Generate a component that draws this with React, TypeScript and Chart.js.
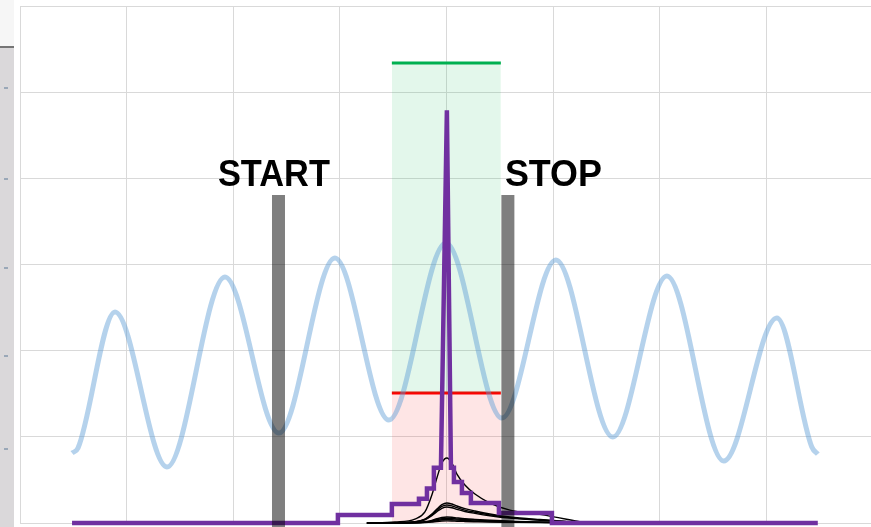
import React, { useEffect, useRef } from "react";
import { Chart, registerables } from "chart.js";

Chart.register(...registerables);

// ---- data (x in grid units, y in grid units) ----
const blueX = [0.488, 0.544, 0.891, 1.378, 1.922, 2.428, 2.953, 3.459, 3.994, 4.519, 5.025, 5.559, 6.066, 6.6, 7.097, 7.425, 7.481];
const blueY = [0.812, 0.87, 2.449, 0.65, 2.855, 1.044, 3.075, 1.195, 3.249, 1.218, 3.052, 0.998, 2.866, 0.72, 2.379, 0.882, 0.8];

const histEdges = [0.488, 2.981, 3.487, 3.741, 3.816, 3.881, 3.947, 4.041, 4.069, 4.144, 4.228, 4.491, 4.988, 7.481];
const histValues = [0, 0.093, 0.22, 0.28, 0.4, 0.64, 4.79, 0.64, 0.476, 0.348, 0.232, 0.116, 0];
const spikeBin = 6;
const spikeCenter = 4.003;

const blackX = [3.253, 3.516, 3.703, 3.797, 3.862, 3.909, 3.956, 4.003, 4.05, 4.097, 4.172, 4.266, 4.406, 4.594, 4.875, 5.25];
const black1 = [0, 0.012, 0.046, 0.128, 0.325, 0.522, 0.696, 0.754, 0.696, 0.568, 0.441, 0.336, 0.232, 0.15, 0.1, 0.015];
const black2 = [0, 0.003, 0.014, 0.046, 0.104, 0.162, 0.213, 0.232, 0.22, 0.197, 0.167, 0.139, 0.104, 0.07, 0.04, 0.008];
const black3 = [0, 0.002, 0.012, 0.042, 0.094, 0.146, 0.192, 0.209, 0.199, 0.178, 0.15, 0.125, 0.094, 0.063, 0.036, 0.007];
const black4 = [0, 0.002, 0.011, 0.037, 0.084, 0.13, 0.171, 0.186, 0.177, 0.158, 0.134, 0.112, 0.084, 0.056, 0.032, 0.006];
const black5 = [0, 0.001, 0.004, 0.014, 0.03, 0.049, 0.064, 0.07, 0.067, 0.06, 0.05, 0.042, 0.032, 0.021, 0.012, 0.004];
const black6 = [0, 0.001, 0.003, 0.011, 0.025, 0.038, 0.05, 0.055, 0.052, 0.047, 0.04, 0.033, 0.025, 0.017, 0.009, 0.003];
const black7 = [0, 0, 0.002, 0.008, 0.018, 0.028, 0.037, 0.04, 0.038, 0.034, 0.029, 0.024, 0.018, 0.012, 0.007, 0.002];
const black8 = [0, 0, 0.001, 0.005, 0.011, 0.018, 0.023, 0.025, 0.024, 0.021, 0.018, 0.015, 0.011, 0.008, 0.004, 0.001];
const blackCurves = [black1, black2, black3, black4, black5, black6, black7, black8];

const bandStart = 3.487;
const bandEnd = 4.509;
const redLevel = 1.509;
const greenLevel = 5.338;

const markerLabels = ["START", "STOP"];
const markerX = [2.424, 4.575];
const markerTop = [3.806, 3.806];
const markerFloor = -0.05;
const labelX = [2.381, 4.547];
const labelY = 3.911;

const X_MAX = 7.98;
const Y_MAX = 6;

const GRID = "#d9d9d9";

export default function App() {
  const ref = useRef<HTMLCanvasElement | null>(null);

  useEffect(() => {
    const canvas = ref.current;
    if (!canvas) return;

    const purplePts: { x: number; y: number }[] = [];
    for (let i = 0; i < histValues.length; i++) {
      if (i === spikeBin) {
        purplePts.push({ x: spikeCenter, y: histValues[i] });
      } else {
        purplePts.push({ x: histEdges[i], y: histValues[i] });
        purplePts.push({ x: histEdges[i + 1], y: histValues[i] });
      }
    }

    const datasets: any[] = [];
    // gray marker bars (on top)
    markerX.forEach((mx, i) => {
      datasets.push({
        data: [{ x: mx, y: markerFloor }, { x: mx, y: markerTop[i] }],
        borderColor: "rgba(0,0,0,0.5)",
        borderWidth: 13,
        borderCapStyle: "butt",
        pointRadius: 0,
        fill: false,
        clip: false,
        order: 0,
      });
    });
    datasets.push({
      data: purplePts,
      borderColor: "#7030a0",
      borderWidth: 4.5,
      pointRadius: 0,
      tension: 0,
      fill: false,
      clip: false,
      order: 1,
    });
    blackCurves.forEach((c) => {
      datasets.push({
        data: blackX.map((x, j) => ({ x, y: c[j] })),
        borderColor: "#000000",
        borderWidth: 1.4,
        pointRadius: 0,
        cubicInterpolationMode: "monotone",
        fill: false,
        clip: false,
        order: 2,
      });
    });
    datasets.push({
      data: blueX.map((x, j) => ({ x, y: blueY[j] })),
      borderColor: "rgba(91,155,213,0.45)",
      borderWidth: 5,
      pointRadius: 0,
      cubicInterpolationMode: "monotone",
      fill: false,
      order: 3,
    });
    const redIndex = datasets.length + 1;
    datasets.push({
      data: [{ x: bandStart, y: greenLevel }, { x: bandEnd, y: greenLevel }],
      borderColor: "#00b050",
      borderWidth: 3,
      borderCapStyle: "butt",
      pointRadius: 0,
      fill: { target: redIndex },
      backgroundColor: "rgba(0,180,70,0.11)",
      order: 4,
    });
    datasets.push({
      data: [{ x: bandStart, y: redLevel }, { x: bandEnd, y: redLevel }],
      borderColor: "#ff0000",
      borderWidth: 3,
      borderCapStyle: "butt",
      pointRadius: 0,
      fill: "origin",
      backgroundColor: "rgba(245,20,20,0.11)",
      order: 5,
    });

    const labelPlugin = {
      id: "markerLabels",
      afterDatasetsDraw(chart: any) {
        const { ctx, scales } = chart;
        ctx.save();
        ctx.fillStyle = "#000";
        ctx.font = 'bold 37px "Liberation Sans", Arial, sans-serif';
        ctx.textBaseline = "alphabetic";
        markerLabels.forEach((t, i) => {
          ctx.textAlign = i === 0 ? "center" : "left";
          const px = scales.x.getPixelForValue(labelX[i]);
          const py = scales.y.getPixelForValue(labelY);
          ctx.fillText(t, px, py, i === 0 ? 112 : 97);
        });
        ctx.restore();
      },
    };

    const chart = new Chart(canvas, {
      type: "line",
      data: { datasets },
      options: {
        animation: false,
        responsive: false,
        maintainAspectRatio: false,
        layout: { padding: { left: 20, top: 6, right: 0, bottom: 4 } },
        plugins: { legend: { display: false }, tooltip: { enabled: false } },
        scales: {
          x: {
            type: "linear",
            min: 0,
            max: X_MAX,
            ticks: { display: false, stepSize: 1, includeBounds: false },
            grid: { color: GRID, drawTicks: false, lineWidth: 1 },
            border: { color: GRID },
          },
          y: {
            type: "linear",
            min: 0,
            max: Y_MAX,
            ticks: { display: false, stepSize: 1 },
            grid: { color: GRID, drawTicks: false, lineWidth: 1 },
            border: { color: GRID },
          },
        },
      },
      plugins: [labelPlugin],
    } as any);

    return () => chart.destroy();
  }, []);

  const marks = [87, 178, 267, 355, 448];

  return (
    <div style={{ position: "fixed", left: 0, top: 0, width: 871, height: 527, background: "#fff", overflow: "hidden" }}>
      <div style={{ position: "absolute", left: 0, top: 0, width: 14, height: 46, background: "#f6f6f6" }} />
      <div style={{ position: "absolute", left: 0, top: 46, width: 14, height: 2, background: "#757575" }} />
      <div style={{ position: "absolute", left: 0, top: 48, width: 14, height: 479, background: "#dad8da" }} />
      {marks.map((m) => (
        <div key={m} style={{ position: "absolute", left: 4, top: m, width: 4, height: 2, background: "#9aa8b8" }} />
      ))}
      <canvas ref={ref} width={871} height={527} style={{ position: "absolute", left: 0, top: 0, display: "block" }} />
    </div>
  );
}
